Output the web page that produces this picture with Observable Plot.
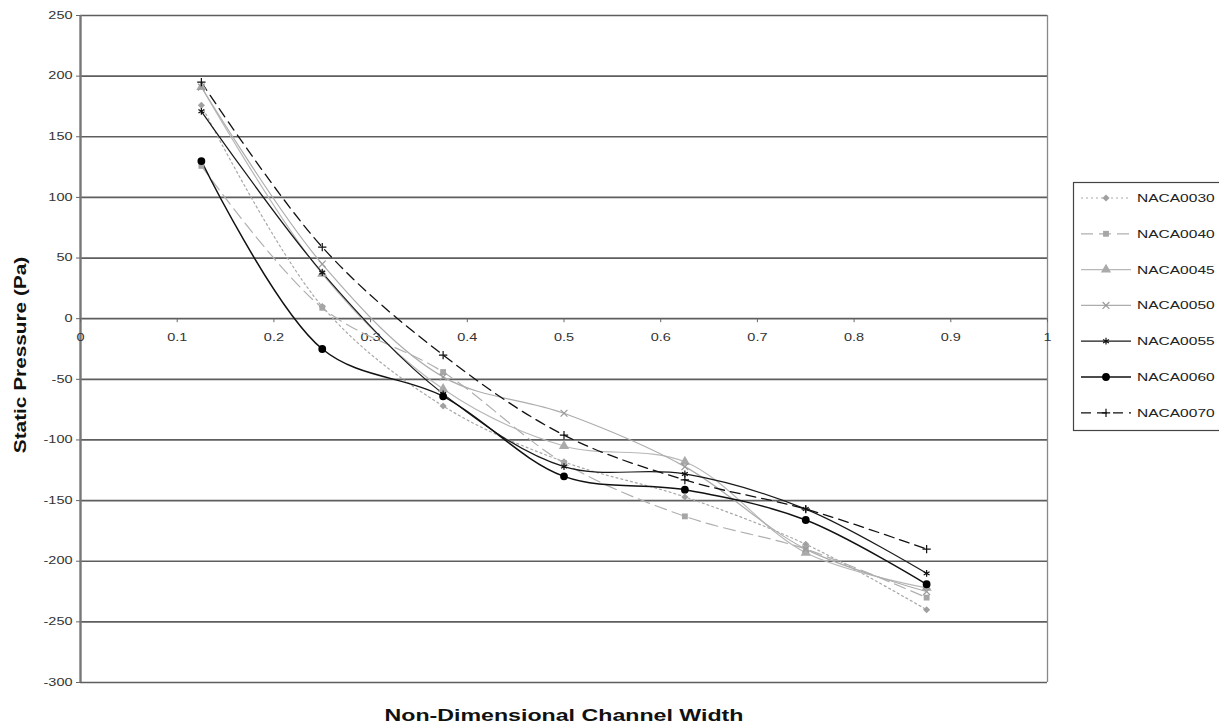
<!DOCTYPE html>
<html><head><meta charset="utf-8">
<script src="https://cdn.jsdelivr.net/npm/d3@7"></script>
<script src="https://cdn.jsdelivr.net/npm/@observablehq/plot@0.6"></script>
<style>
body{margin:0;background:#fff;}
#chart{position:relative;width:1219px;height:727px;overflow:hidden;}
</style></head><body><div id="chart"></div>
<script>
// ---- data ----
const xValues = [0.125, 0.25, 0.375, 0.5, 0.625, 0.75, 0.875];
const seriesNames = ["NACA0030","NACA0040","NACA0045","NACA0050","NACA0055","NACA0060","NACA0070"];
const naca0030 = [176, 10, -72, -118, -147, -186, -240];
const naca0040 = [126, 9, -44, -119, -163, -190, -230];
const naca0045 = [191, 37, -58, -105, -118, -193, -222];
const naca0050 = [191, 45, -48, -78, -122, -190, -225];
const naca0055 = [171, 38, -62, -122, -128, -157, -210];
const naca0060 = [130, -25, -64, -130, -141, -166, -219];
const naca0070 = [195, 59, -30, -96, -133, -157, -190];
const yTickValues = [-300, -250, -200, -150, -100, -50, 0, 50, 100, 150, 200, 250];
const xTickValues = [0, 0.1, 0.2, 0.3, 0.4, 0.5, 0.6, 0.7, 0.8, 0.9, 1];
const xTickLabels = ["0","0.1","0.2","0.3","0.4","0.5","0.6","0.7","0.8","0.9","1"];

// ---- styles ----
const styles = {
  NACA0030: {stroke:"#a8a8a8", dash:"2,3", width:1.2, symbol:"diamond2", mfill:"#a0a0a0", mstroke:"none", r:3.2},
  NACA0040: {stroke:"#b0b0b0", dash:"12,6", width:1.2, symbol:"square", mfill:"#a6a6a6", mstroke:"none", r:3.3},
  NACA0045: {stroke:"#b8b8b8", dash:null, width:1.2, symbol:"triangle", mfill:"#aaaaaa", mstroke:"none", r:3.8},
  NACA0050: {stroke:"#adadad", dash:null, width:1.2, symbol:"times", mfill:"none", mstroke:"#9a9a9a", r:3.2},
  NACA0055: {stroke:"#1a1a1a", dash:null, width:1.2, symbol:"asterisk", mfill:"none", mstroke:"#111", r:3.2},
  NACA0060: {stroke:"#111111", dash:null, width:1.5, symbol:"circle", mfill:"#000", mstroke:"none", r:3.9},
  NACA0070: {stroke:"#111111", dash:"10,6", width:1.3, symbol:"plus", mfill:"none", mstroke:"#111", r:2.8}
};
const allValues = [naca0030, naca0040, naca0045, naca0050, naca0055, naca0060, naca0070];
const rows = [];
seriesNames.forEach((name, k) => xValues.forEach((x, i) => rows.push({series: name, x, y: allValues[k][i]})));

const lineMarks = [];
const dotMarks = [];
seriesNames.forEach(name => {
  const s = styles[name];
  const d = rows.filter(r => r.series === name);
  lineMarks.push(Plot.line(d, {x:"x", y:"y", curve:"catmull-rom", stroke:s.stroke, strokeWidth:s.width, strokeDasharray:s.dash || undefined}));
  dotMarks.push(Plot.dot(d, {x:"x", y:"y", symbol:()=>s.symbol, r:s.r, fill:s.mfill, stroke:s.mstroke, strokeWidth:1.2}));
});

const chart = Plot.plot({
  width: 1219, height: 727,
  marginLeft: 80, marginRight: 172, marginTop: 15, marginBottom: 45,
  style: {fontFamily: "'Liberation Sans', Arial, sans-serif", background: "#fff"},
  x: {domain: [0, 1], axis: null},
  y: {domain: [-300, 250], axis: null},
  symbol: {type: "identity"},
  marks: [
    Plot.ruleY(yTickValues, {stroke:"#5e5e5e", strokeWidth:1.7}),
    Plot.ruleX([1], {stroke:"#888", strokeWidth:1.3}),
    Plot.ruleX([0], {stroke:"#777", strokeWidth:2.4}),
    Plot.axisY({ticks: yTickValues, label: null, tickSize: 4, tickPadding: 4, tickFormat: d => String(d), fontSize: 10, stroke: "#666", fill: "#333"}),
    Plot.ruleX(xTickValues, {x: d => d, y1: 0, y2: -3.3, stroke: "#666"}),
    Plot.text(xTickValues, {x: d => d, y: 0, dy: 19, text: (d, i) => xTickLabels[i], fontSize: 10, fill: "#333"}),
    ...lineMarks,
    ...dotMarks,
    Plot.text(["Non-Dimensional Channel Width"], {frameAnchor: "bottom", dy: 38, fontSize: 16, fontWeight: "bold", fill: "#111"}),
    Plot.text(["Static Pressure (Pa)"], {frameAnchor: "left", textAnchor: "middle", dx: -60, dy: 6, rotate: -90, fontSize: 16, fontWeight: "bold", fill: "#111"})
  ]
});

document.getElementById("chart").appendChild(chart);
const svg = d3.select(chart);

// horizontally stretched text, as in the reference
svg.selectAll("text").each(function() {
  const t = this.getAttribute("transform");
  const rotated = t && t.includes("rotate");
  const sc = rotated ? "scale(1.3,1)" : "scale(1.45,1)";
  if (t) this.setAttribute("transform", t + " " + sc);
  else {
    const x = +(this.getAttribute("x") || 0), y = +(this.getAttribute("y") || 0);
    this.setAttribute("transform", `translate(${x},${y}) ${sc} translate(${-x},${-y})`);
  }
});

// legend
const symbolMap = {diamond2: d3.symbolDiamond2, square: d3.symbolSquare, triangle: d3.symbolTriangle, times: d3.symbolTimes, asterisk: d3.symbolAsterisk, circle: d3.symbolCircle, plus: d3.symbolPlus};
const lg = svg.append("g");
lg.append("rect").attr("x", 1073.5).attr("y", 182.5).attr("width", 160).attr("height", 248)
  .attr("fill", "#fff").attr("stroke", "#444").attr("stroke-width", 1.2);
seriesNames.forEach((name, i) => {
  const s = styles[name];
  const y = 198 + i * 35.8;
  lg.append("line").attr("x1", 1081).attr("x2", 1131).attr("y1", y).attr("y2", y)
    .attr("stroke", s.stroke).attr("stroke-width", s.width).attr("stroke-dasharray", s.dash);
  lg.append("path").attr("transform", `translate(1106,${y})`)
    .attr("d", d3.symbol(symbolMap[s.symbol], Math.PI * s.r * s.r)())
    .attr("fill", s.mfill).attr("stroke", s.mstroke).attr("stroke-width", 1.2);
  lg.append("text").attr("x", 0).attr("y", 0).attr("dy", "0.35em")
    .attr("text-anchor", "start")
    .attr("font-size", 11.5).attr("fill", "#222")
    .attr("transform", `translate(1137,${y}) scale(1.35,1)`)
    .text(name);
});
</script>
</body></html>
